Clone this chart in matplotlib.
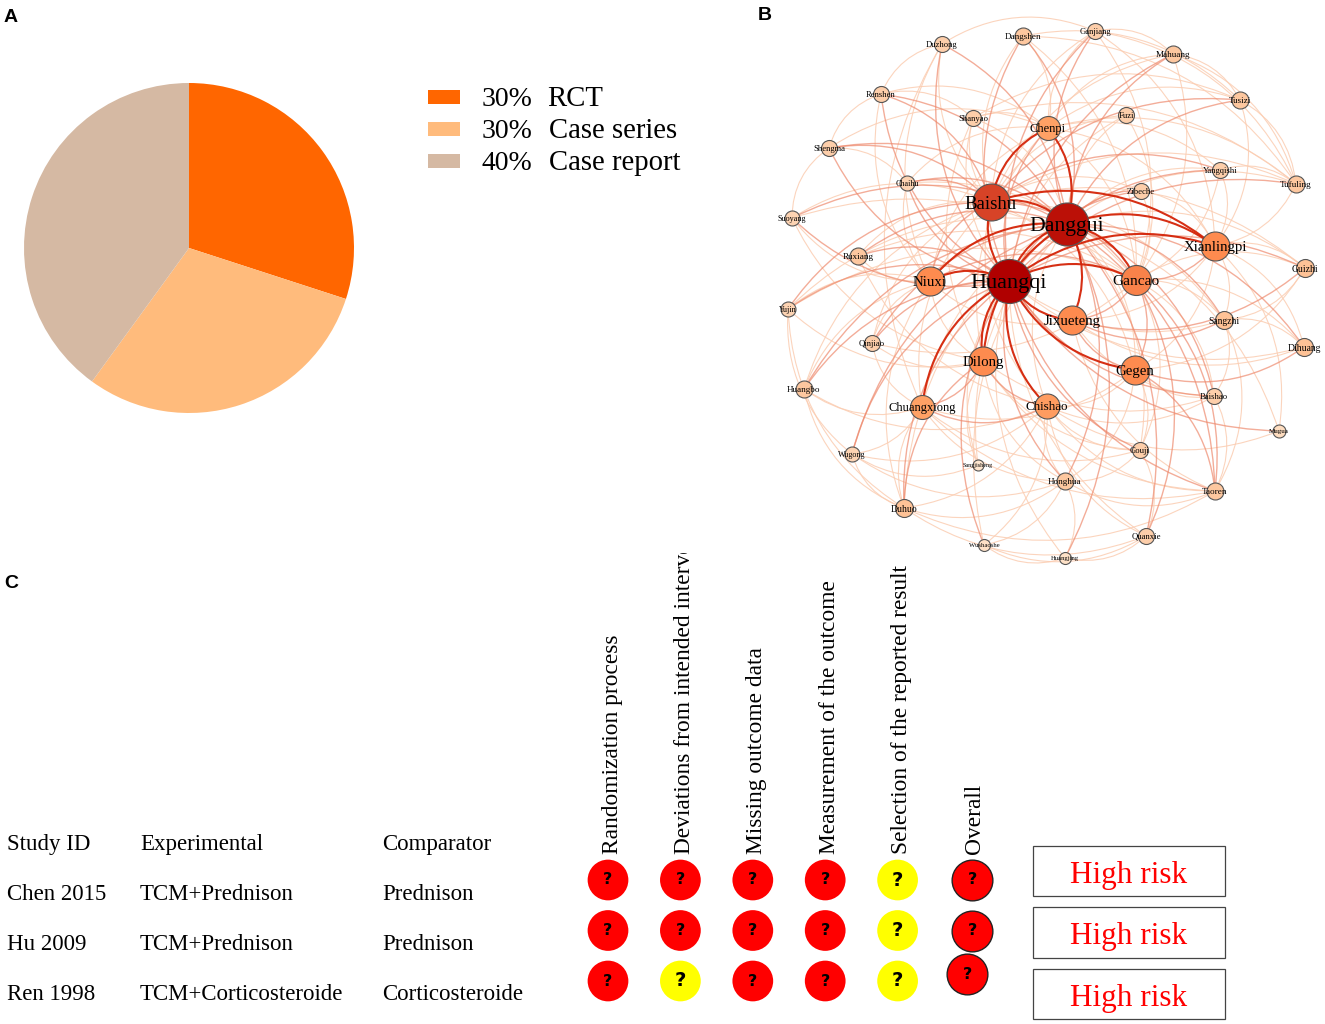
#!/usr/bin/env python3

# Three panel figure: study types (pie), herb network, risk of bias table

import matplotlib
matplotlib.use("Agg")
import matplotlib.pyplot as plt
from matplotlib.colors import LinearSegmentedColormap, Normalize
from matplotlib.patches import PathPatch, Rectangle
from matplotlib.path import Path
from matplotlib.transforms import Bbox
import numpy as np

W, H = 1325, 1024

# Panel A
study_types = ["RCT", "Case series", "Case report"]
study_share = [30, 30, 40]
study_colors = ["#FF6600", "#FFBB7C", "#D5B9A3"]

# Panel B, layout of the network
node_names = ["Huangqi", "Danggui", "Baishu", "Xianlingpi", "Gancao", "Niuxi", "Jixueteng",
              "Dilong", "Gegen", "Chishao", "Chuangxiong", "Chenpi",
              "Duzhong", "Dangshen", "Ganjiang", "Mahuang", "Tusizi", "Tufuling", "Guizhi",
              "Dihuang", "Mugua", "Taoren", "Quanxie", "Huangjing", "Wushaoshe", "Duhuo",
              "Wugong", "Huangbo", "Yujin", "Suoyang", "Shengma", "Renshen", "Shanyao",
              "Fuzi", "Yangqishi", "Zibeche", "Chaihu", "Ruxiang", "Sangzhi", "Qinjiao",
              "Baishao", "Gouji", "Honghua", "Sangjisheng"]
node_x = [1009, 1067, 991, 1215, 1136, 930, 1072, 983, 1135, 1047, 922, 1048,
          942, 1023, 1095, 1173, 1240, 1296, 1305, 1304, 1279, 1215, 1146, 1065, 984, 904,
          852, 804, 788, 792, 829, 881, 973, 1126, 1220, 1141, 907, 858, 1224, 872,
          1214, 1140, 1065, 978]
node_y = [281, 224, 202, 246, 280, 281, 320, 361, 370, 406, 407, 128,
          44, 36, 31, 54, 100, 184, 268, 347, 431, 491, 536, 558, 545, 508,
          454, 389, 309, 218, 148, 94, 118, 115, 170, 191, 183, 256, 320, 343,
          396, 450, 481, 465]
node_degree = [44, 43, 37, 29, 30, 29, 29, 29, 29, 25, 24, 24,
               16, 17, 16, 17, 17, 17, 18, 18, 13, 17, 16, 12, 12, 18,
               15, 17, 15, 15, 16, 16, 16, 16, 16, 16, 15, 17, 18, 16,
               16, 16, 17, 11]

edges_strong = [("Huangqi", "Danggui"), ("Huangqi", "Baishu"), ("Baishu", "Danggui"),
                ("Danggui", "Gancao"), ("Huangqi", "Gancao"), ("Huangqi", "Chuangxiong"),
                ("Huangqi", "Dilong"), ("Danggui", "Xianlingpi"), ("Huangqi", "Gegen"),
                ("Huangqi", "Jixueteng"), ("Huangqi", "Chishao"), ("Baishu", "Chenpi"),
                ("Danggui", "Chenpi"), ("Huangqi", "Niuxi"), ("Danggui", "Niuxi"),
                ("Danggui", "Dilong"), ("Danggui", "Jixueteng"), ("Baishu", "Xianlingpi"),
                ("Huangqi", "Xianlingpi")]
edges_medium = [("Shengma", "Huangqi"), ("Shengma", "Danggui"), ("Shengma", "Baishu"),
                ("Renshen", "Huangqi"), ("Renshen", "Danggui"), ("Renshen", "Baishu"),
                ("Chaihu", "Huangqi"), ("Chaihu", "Danggui"), ("Chaihu", "Baishu"),
                ("Chenpi", "Huangqi"), ("Gancao", "Xianlingpi"), ("Gancao", "Jixueteng"),
                ("Jixueteng", "Sangzhi"), ("Jixueteng", "Guizhi"), ("Jixueteng", "Gegen"),
                ("Gegen", "Dihuang"), ("Danggui", "Taoren"), ("Huangqi", "Taoren"),
                ("Huangqi", "Gouji"), ("Huangqi", "Honghua"), ("Danggui", "Honghua"),
                ("Chuangxiong", "Chishao"), ("Chuangxiong", "Dilong"), ("Dilong", "Chishao"),
                ("Baishu", "Gancao"), ("Danggui", "Sangzhi"), ("Tusizi", "Danggui"),
                ("Tusizi", "Baishu"), ("Mahuang", "Huangqi"), ("Mahuang", "Danggui"),
                ("Huangbo", "Huangqi"), ("Huangbo", "Danggui"), ("Yujin", "Huangqi"),
                ("Yujin", "Baishu"), ("Duhuo", "Huangqi"), ("Duhuo", "Dilong"),
                ("Wugong", "Huangqi"), ("Wugong", "Danggui"), ("Taoren", "Gancao"),
                ("Taoren", "Gegen"), ("Guizhi", "Huangqi"), ("Dihuang", "Danggui"),
                ("Baishao", "Huangqi"), ("Baishao", "Danggui"), ("Qinjiao", "Huangqi"),
                ("Qinjiao", "Danggui"), ("Yangqishi", "Huangqi"), ("Yangqishi", "Baishu"),
                ("Zibeche", "Huangqi"), ("Zibeche", "Danggui"), ("Ruxiang", "Huangqi"),
                ("Ruxiang", "Danggui"), ("Wushaoshe", "Huangqi"), ("Huangjing", "Danggui"),
                ("Dangshen", "Huangqi"), ("Dangshen", "Danggui"), ("Duzhong", "Huangqi"),
                ("Duzhong", "Danggui"), ("Ganjiang", "Danggui"), ("Ganjiang", "Huangqi"),
                ("Quanxie", "Danggui"), ("Quanxie", "Gancao"), ("Mugua", "Huangqi"),
                ("Tufuling", "Huangqi"), ("Suoyang", "Huangqi"), ("Suoyang", "Danggui"),
                ("Niuxi", "Baishu"), ("Niuxi", "Gancao"), ("Gegen", "Gancao")]
edges_light = [("Duzhong", "Baishu"), ("Duzhong", "Niuxi"), ("Duzhong", "Ganjiang"),
               ("Duzhong", "Chuangxiong"), ("Dangshen", "Baishu"), ("Dangshen", "Gancao"),
               ("Dangshen", "Chenpi"), ("Dangshen", "Tusizi"), ("Dangshen", "Tufuling"),
               ("Ganjiang", "Baishu"), ("Ganjiang", "Gancao"), ("Ganjiang", "Tufuling"),
               ("Ganjiang", "Mahuang"), ("Ganjiang", "Chenpi"), ("Ganjiang", "Xianlingpi"),
               ("Mahuang", "Tufuling"), ("Mahuang", "Chenpi"), ("Mahuang", "Baishu"),
               ("Mahuang", "Tusizi"), ("Mahuang", "Gancao"), ("Tusizi", "Tufuling"),
               ("Tusizi", "Xianlingpi"), ("Tusizi", "Shanyao"), ("Tusizi", "Chenpi"),
               ("Tufuling", "Baishu"), ("Tufuling", "Danggui"), ("Tufuling", "Chenpi"),
               ("Tufuling", "Xianlingpi"), ("Tufuling", "Shanyao"), ("Guizhi", "Danggui"),
               ("Guizhi", "Gancao"), ("Guizhi", "Baishu"), ("Guizhi", "Xianlingpi"),
               ("Guizhi", "Sangzhi"), ("Guizhi", "Gegen"), ("Dihuang", "Huangqi"),
               ("Dihuang", "Xianlingpi"), ("Dihuang", "Sangzhi"), ("Dihuang", "Gancao"),
               ("Dihuang", "Jixueteng"), ("Mugua", "Danggui"), ("Mugua", "Xianlingpi"),
               ("Mugua", "Chishao"), ("Taoren", "Chishao"), ("Taoren", "Chuangxiong"),
               ("Taoren", "Honghua"), ("Taoren", "Jixueteng"), ("Taoren", "Baishao"),
               ("Taoren", "Dilong"), ("Taoren", "Sangzhi"), ("Quanxie", "Huangqi"),
               ("Quanxie", "Chishao"), ("Quanxie", "Wushaoshe"), ("Quanxie", "Duhuo"),
               ("Quanxie", "Gouji"), ("Huangjing", "Huangqi"), ("Huangjing", "Wushaoshe"),
               ("Huangjing", "Honghua"), ("Huangjing", "Quanxie"), ("Wushaoshe", "Danggui"),
               ("Wushaoshe", "Chishao"), ("Wushaoshe", "Honghua"), ("Duhuo", "Danggui"),
               ("Duhuo", "Chuangxiong"), ("Duhuo", "Chishao"), ("Duhuo", "Honghua"),
               ("Duhuo", "Wugong"), ("Duhuo", "Taoren"), ("Duhuo", "Niuxi"),
               ("Wugong", "Chuangxiong"), ("Wugong", "Chishao"), ("Wugong", "Sangjisheng"),
               ("Wugong", "Honghua"), ("Huangbo", "Baishu"), ("Huangbo", "Chuangxiong"),
               ("Huangbo", "Duhuo"), ("Huangbo", "Niuxi"), ("Huangbo", "Chishao"),
               ("Yujin", "Danggui"), ("Yujin", "Niuxi"), ("Yujin", "Dilong"),
               ("Yujin", "Gancao"), ("Yujin", "Wugong"), ("Yujin", "Duhuo"),
               ("Suoyang", "Baishu"), ("Suoyang", "Niuxi"), ("Suoyang", "Shengma"),
               ("Suoyang", "Gancao"), ("Suoyang", "Dilong"), ("Shengma", "Chaihu"),
               ("Shengma", "Chenpi"), ("Shengma", "Renshen"), ("Renshen", "Shanyao"),
               ("Renshen", "Chenpi"), ("Renshen", "Duzhong"), ("Renshen", "Niuxi"),
               ("Shanyao", "Baishu"), ("Shanyao", "Danggui"), ("Shanyao", "Huangqi"),
               ("Shanyao", "Chenpi"), ("Shanyao", "Dilong"), ("Fuzi", "Danggui"),
               ("Fuzi", "Huangqi"), ("Fuzi", "Gancao"), ("Fuzi", "Baishu"),
               ("Yangqishi", "Danggui"), ("Yangqishi", "Xianlingpi"), ("Yangqishi", "Chenpi"),
               ("Yangqishi", "Gancao"), ("Yangqishi", "Tufuling"), ("Zibeche", "Baishu"),
               ("Zibeche", "Gancao"), ("Zibeche", "Xianlingpi"), ("Chaihu", "Gancao"),
               ("Chaihu", "Niuxi"), ("Chaihu", "Chenpi"), ("Ruxiang", "Baishu"),
               ("Ruxiang", "Niuxi"), ("Ruxiang", "Chishao"), ("Ruxiang", "Gancao"),
               ("Sangzhi", "Huangqi"), ("Sangzhi", "Baishu"), ("Sangzhi", "Xianlingpi"),
               ("Sangzhi", "Gancao"), ("Sangzhi", "Baishao"), ("Qinjiao", "Baishu"),
               ("Qinjiao", "Niuxi"), ("Qinjiao", "Dilong"), ("Qinjiao", "Chuangxiong"),
               ("Qinjiao", "Gancao"), ("Baishao", "Gancao"), ("Baishao", "Gegen"),
               ("Baishao", "Jixueteng"), ("Baishao", "Dilong"), ("Baishao", "Chishao"),
               ("Gouji", "Danggui"), ("Gouji", "Chishao"), ("Gouji", "Chuangxiong"),
               ("Gouji", "Dilong"), ("Gouji", "Gancao"), ("Gouji", "Gegen"),
               ("Honghua", "Chishao"), ("Honghua", "Chuangxiong"), ("Honghua", "Gouji"),
               ("Honghua", "Dilong"), ("Honghua", "Gegen"), ("Sangjisheng", "Huangqi"),
               ("Sangjisheng", "Dilong"), ("Sangjisheng", "Danggui"), ("Chenpi", "Gancao"),
               ("Chenpi", "Xianlingpi"), ("Chenpi", "Niuxi"), ("Chenpi", "Dilong"),
               ("Chuangxiong", "Baishu"), ("Chuangxiong", "Danggui"), ("Chuangxiong", "Gegen"),
               ("Chishao", "Gegen"), ("Chishao", "Danggui"), ("Chishao", "Baishu"),
               ("Niuxi", "Dilong"), ("Niuxi", "Jixueteng"), ("Gegen", "Baishu"),
               ("Gegen", "Danggui"), ("Xianlingpi", "Gegen"), ("Xianlingpi", "Jixueteng")]

# Panel C
studies = ["Chen 2015", "Hu 2009", "Ren 1998"]
experimental = ["TCM+Prednison", "TCM+Prednison", "TCM+Corticosteroide"]
comparator = ["Prednison", "Prednison", "Corticosteroide"]
table_heads = ["Study ID", "Experimental", "Comparator"]
domains = ["Randomization process", "Deviations from intended interventions",
           "Missing outcome data", "Measurement of the outcome",
           "Selection of the reported result", "Overall"]
# 2 = high risk, 1 = some concerns, one row per study
risk = [[2, 2, 2, 2, 1, 2],
        [2, 2, 2, 2, 1, 2],
        [2, 1, 2, 2, 1, 2]]
overall_text = ["High risk", "High risk", "High risk"]

SERIF = "Liberation Serif"
risk_colors = {2: "#FF0000", 1: "#FFFF00"}
mark_size = {2: 11.5, 1: 14}


def px_axes(left, top, right, bottom):
    return fig.add_axes([left / W, 1 - bottom / H, (right - left) / W, (bottom - top) / H])


def label(x, y, s, size, **kw):
    # Liberation Serif sits high with va=center, push it down a little
    return ax.text(x, y + 0.15 * size, s, family=SERIF, fontsize=size, va="center", **kw)


fig = plt.figure(figsize=(W / 100, H / 100), dpi=100, facecolor="white")

# overlay in pixel coordinates, for the texts and the network
ax = fig.add_axes([0, 0, 1, 1])
ax.set_xlim(0, W)
ax.set_ylim(H, 0)
ax.axis("off")

for letter, x, y in [("A", 4, 17), ("B", 758, 16), ("C", 4, 584)]:
    ax.text(x, y, letter, fontsize=14, fontweight="bold", family="Liberation Sans", va="center")

# A: pie
ax_pie = px_axes(14, 73, 364, 423)
wedges, _ = ax_pie.pie(study_share, colors=study_colors, startangle=90, counterclock=False,
                       radius=165 / 175)
ax_pie.set_xlim(-1, 1)
ax_pie.set_ylim(-1, 1)

for i, (share, kind, col) in enumerate(zip(study_share, study_types, study_colors)):
    y = 97 + i * 32
    ax.add_patch(Rectangle((428, y - 7), 32, 14, facecolor=col, edgecolor="none"))
    label(482, y - 1, f"{share}%", 20)
    label(547 if i == 0 else 549, y - 1, kind, 20.7)

# B: network
node_pos = dict(zip(node_names, zip(node_x, node_y)))
graph_centre = np.array([1060.0, 290.0])
edge_cmap = LinearSegmentedColormap.from_list("edges", ["#FBCDB2", "#EE8A6E", "#D42408"])
edge_sets = [(edges_light, 0.0, 0.8, 0.85), (edges_medium, 0.5, 1.0, 0.7), (edges_strong, 1.0, 1.5, 0.95)]
for edges, level, lw, alpha in edge_sets:
    for a, b in edges:
        p0 = np.array(node_pos[a], dtype=float)
        p1 = np.array(node_pos[b], dtype=float)
        mid = (p0 + p1) / 2
        perp = np.array([p1[1] - p0[1], p0[0] - p1[0]]) * 0.26
        # the arc bends away from the middle of the graph
        if np.dot(perp, mid - graph_centre) < 0:
            perp = -perp
        path = Path([p0, mid + perp, p1], [Path.MOVETO, Path.CURVE3, Path.CURVE3])
        ax.add_patch(PathPatch(path, facecolor="none", edgecolor=edge_cmap(level), lw=lw,
                               alpha=alpha, zorder=2))

node_cmap = LinearSegmentedColormap.from_list(
    "nodes", [(0.0, "#FFF4E4"), (0.2, "#FDD2B0"), (0.42, "#FFA468"), (0.58, "#FF8C50"),
              (0.8, "#D84528"), (0.97, "#BC1208"), (1.0, "#B00000")])
node_norm = Normalize(8, 44)
for name, x, y, deg in zip(node_names, node_x, node_y, node_degree):
    r = deg / 2
    # scatter size is the diameter in points, squared
    ax.scatter(x, y, s=(2 * r * 0.72) ** 2, color=node_cmap(node_norm(deg)),
               edgecolor="#555555", linewidth=0.8, zorder=3)
    label(x, y, name, 0.7 * r + 0.6, ha="center", zorder=4, color="black")

# C: study table
for col_x, head, column in zip([7, 140, 382], table_heads, [studies, experimental, comparator]):
    label(col_x, 842, head, 16.5)
    for j, value in enumerate(column):
        label(col_x, 892 + j * 50, value, 16.5)

# risk of bias matrix, one unit per domain and per study
ax_risk = px_axes(608, 880, 970, 981)
ax_risk.set_xlim(0, 5)
ax_risk.set_ylim(2, 0)
ax_risk.axis("off")
for j, row in enumerate(risk):
    for i, level in enumerate(row):
        is_overall = domains[i] == "Overall"
        # last circle in the overall column sits a bit off the grid in the source
        dx = 0.03 if is_overall else 0
        dy = -0.13 if (is_overall and j == 2) else 0
        dx = -0.04 if (is_overall and j == 2) else dx
        ax_risk.scatter(i + dx, j + dy, s=860, color=risk_colors[level],
                        edgecolor="#222222" if is_overall else "none",
                        linewidth=1 if is_overall else 0, clip_on=False, zorder=2)
        ax_risk.text(i + dx, j + dy, "?", fontsize=mark_size[level], fontweight="bold",
                     family="DejaVu Sans", ha="center", va="center", zorder=3)

for i, name in enumerate(domains):
    t = ax_risk.annotate(name, (i, 0), xytext=(3, 19), textcoords="offset points", rotation=90,
                         family=SERIF, fontsize=16.8, ha="center", va="bottom",
                         annotation_clip=False)
    t.set_clip_on(True)
    t.set_clip_box(Bbox([[0, 0], [W, H - 553]]))

for top, bottom, txt in zip([846, 907, 969], [896, 958, 1019], overall_text):
    ax.add_patch(Rectangle((1033, top), 192, bottom - top, facecolor="white",
                           edgecolor="#444444", linewidth=0.9))
    label(1129, (top + bottom) / 2 + 1, txt, 22.5, color="#FF0000", ha="center")

fig.savefig("out.png", dpi=100)
